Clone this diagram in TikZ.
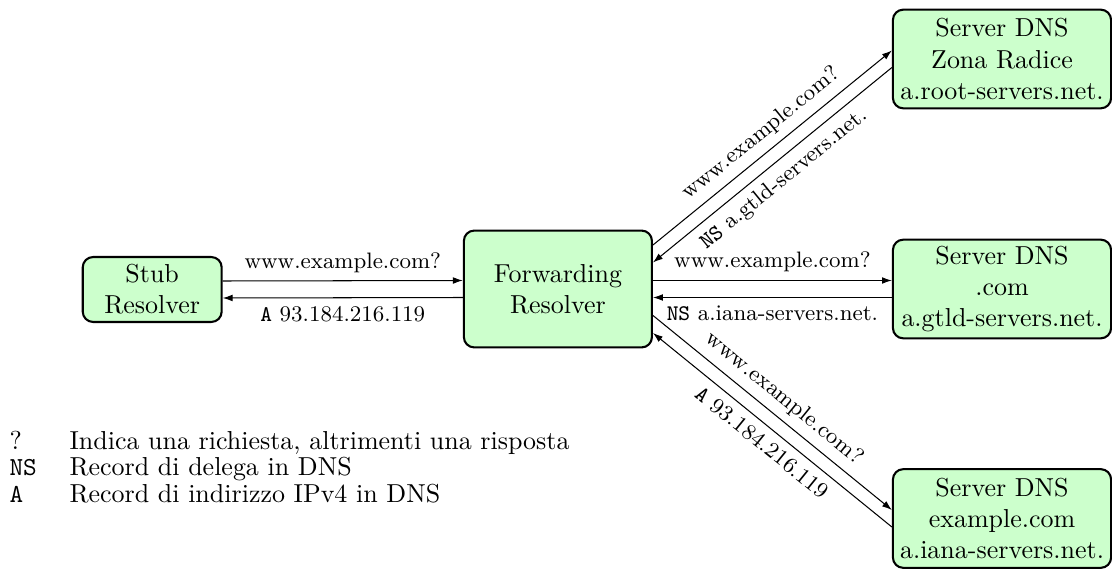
\documentclass[tikz,border=0pt]{standalone}
\usepackage{fontspec}
\usetikzlibrary{arrows.meta,calc}
\tikzset{
  box/.style={draw, line width=0.8pt, rounded corners=4pt, fill=green!20,
    align=center, inner sep=0pt},
  stubbox/.style={box, minimum width=53.5pt, minimum height=25pt},
  fwdbox/.style={box, minimum width=72.4pt, minimum height=45pt},
  srvbox/.style={box, minimum width=84pt, minimum height=38pt},
  msg/.style={-{Latex[length=3.8pt,width=2.6pt]}, line width=0.4pt},
  msgback/.style={{Latex[length=3.8pt,width=2.6pt]}-, line width=0.4pt},
  lbl/.style={font=\fontsize{8.6}{10.3}\selectfont, inner sep=3pt},
  legend/.style={anchor=base west, inner sep=0pt},
}
\begin{document}
\begin{tikzpicture}[x=0.385pt, y=-0.385pt]
\useasboundingbox (0,0) rectangle (1112,569);

% resolvers and name servers
\node[stubbox] (stub) at (152.2,289.5) {Stub\\Resolver};
\node[fwdbox] (fwd) at (557.9,289) {Forwarding\\Resolver};
\node[srvbox] (root) at (1002,59) {Server DNS\\Zona Radice\\a.root-servers.net.};
\node[srvbox] (com) at (1002,289) {Server DNS\\.com\\a.gtld-servers.net.};
\node[srvbox] (exm) at (1002,518.5) {Server DNS\\example.com\\a.iana-servers.net.};

% stub <-> forwarder
\draw[msg] ($(stub.east)+(0,-8.5)$) -- node[lbl,above]{www.example.com?} ($(fwd.west)+(0,-8.5)$);
\draw[msgback] ($(stub.east)+(0,8.5)$) -- node[lbl,below]{\texttt{A} 93.184.216.119} ($(fwd.west)+(0,8.5)$);

% forwarder <-> root zone
\draw[msg] ($(fwd.east)+(0,-44)$) -- node[lbl,above,sloped]{www.example.com?} ($(root.west)+(0,-8.5)$);
\draw[msgback] ($(fwd.east)+(0,-26.5)$) -- node[lbl,below,sloped]{\texttt{NS} a.gtld-servers.net.} ($(root.west)+(0,8.5)$);

% forwarder <-> .com
\draw[msg] ($(fwd.east)+(0,-8.5)$) -- node[lbl,above]{www.example.com?} ($(com.west)+(0,-8.5)$);
\draw[msgback] ($(fwd.east)+(0,8.5)$) -- node[lbl,below]{\texttt{NS} a.iana-servers.net.} ($(com.west)+(0,8.5)$);

% forwarder <-> example.com
\draw[msg] ($(fwd.east)+(0,26.5)$) -- node[lbl,above,sloped]{www.example.com?} ($(exm.west)+(0,-8.5)$);
\draw[msgback] ($(fwd.east)+(0,44)$) -- node[lbl,below,sloped]{\texttt{A} 93.184.216.119} ($(exm.west)+(0,8.5)$);

% legend
\node[legend] (k1) at (9,449) {?};
\node[legend] (d1) at (69,449) {Indica una richiesta, altrimenti una risposta};
\node[legend] (k2) at (9,475.5) {\texttt{NS}};
\node[legend] (d2) at (69,475.5) {Record di delega in DNS};
\node[legend] (k3) at (9,502) {\texttt{A}};
\node[legend] (d3) at (69,502) {Record di indirizzo IPv4 in DNS};
\end{tikzpicture}
\end{document}
